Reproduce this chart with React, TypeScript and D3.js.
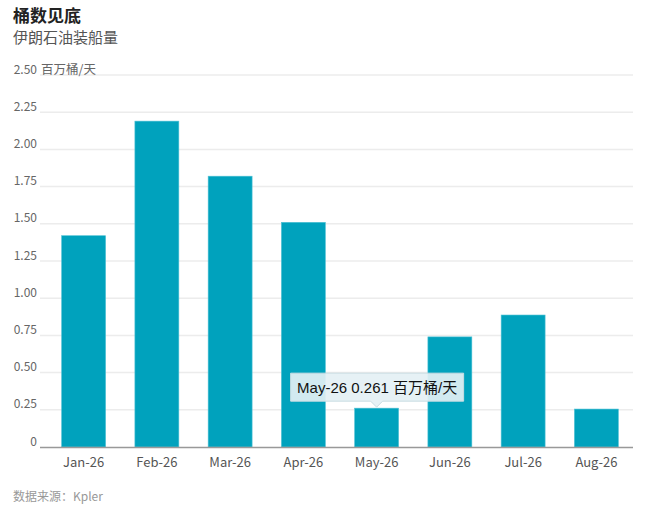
import React from "react";
import * as d3 from "d3";

const categories = ["Jan-26", "Feb-26", "Mar-26", "Apr-26", "May-26", "Jun-26", "Jul-26", "Aug-26"];
const values = [1.42, 2.19, 1.82, 1.51, 0.261, 0.74, 0.887, 0.255];
const yTicks = [0, 0.25, 0.5, 0.75, 1.0, 1.25, 1.5, 1.75, 2.0, 2.25, 2.5];
const unit = "百万桶/天";
const title = "桶数见底";
const subtitle = "伊朗石油装船量";
const source = "数据来源：Kpler";
const tooltipIndex = 4;

const W = 648, H = 508;
const font = "'Noto Sans CJK SC', 'Open Sans', sans-serif";

export default function App() {
  const x = d3.scaleBand<string>().domain(categories).range([47, 633]).paddingInner(0.4).paddingOuter(0.2);
  const y = d3.scaleLinear().domain([0, 2.5]).range([447, 75]);
  const bw = x.bandwidth();
  const tv = values[tooltipIndex];
  const tcx = (x(categories[tooltipIndex]) as number) + bw / 2;
  const tTop = y(tv);
  const tbW = 173, tbH = 28;
  const tbX = tcx - 86;
  const tbY = tTop - 7 - tbH;
  return (
    <svg width={W} height={H} style={{ position: "absolute", left: 0, top: 0, background: "#fff" }}>
      <text x={13} y={22} fontFamily={font} fontWeight={700} fontSize={17} fill="#222">{title}</text>
      <text x={13} y={43} fontFamily={font} fontSize={15} fill="#555">{subtitle}</text>
      {yTicks.map((t) => (
        <g key={t}>
          {t > 0 && <line x1={40} x2={633} y1={y(t)} y2={y(t)} stroke="#ececec" strokeWidth={1.5} />}
          <text x={37} y={y(t) - 1.5} textAnchor="end" fontFamily={font} fontSize={12} fill="#666">
            {t === 0 ? "0" : d3.format(".2f")(t)}
          </text>
        </g>
      ))}
      <text x={41} y={y(2.5) - 1.5} fontFamily={font} fontSize={12.5} fill="#666">{unit}</text>
      {values.map((v, i) => (
        <rect key={i} x={x(categories[i])} y={y(v)} width={bw} height={y(0) - y(v)} fill="#00a2bd" stroke="#4fc1d4" strokeWidth={0.6} />
      ))}
      <line x1={40} x2={633} y1={y(0) + 0.5} y2={y(0) + 0.5} stroke="#999" strokeWidth={1.5} />
      {categories.map((c) => (
        <text key={c} x={(x(c) as number) + bw / 2} y={467} textAnchor="middle" fontFamily={font} fontSize={13} fill="#555">{c}</text>
      ))}
      <text x={13} y={501} fontFamily={font} fontSize={12} fill="#999">{source}</text>
      <g>
        <path
          d={`M${tbX},${tbY} H${tbX + tbW} V${tbY + tbH} H${tcx + 6} L${tcx},${tbY + tbH + 6} L${tcx - 6},${tbY + tbH} H${tbX} Z`}
          fill="rgba(228,240,244,0.92)"
          stroke="#c9dde2"
          strokeWidth={1}
        />
        <text x={tbX + tbW / 2} y={tbY + 20} textAnchor="middle" fontFamily="'Liberation Sans', Arial, 'Noto Sans CJK SC', sans-serif" fontSize={15} fill="#111">
          {`${categories[tooltipIndex]} ${tv} ${unit}`}
        </text>
      </g>
    </svg>
  );
}
